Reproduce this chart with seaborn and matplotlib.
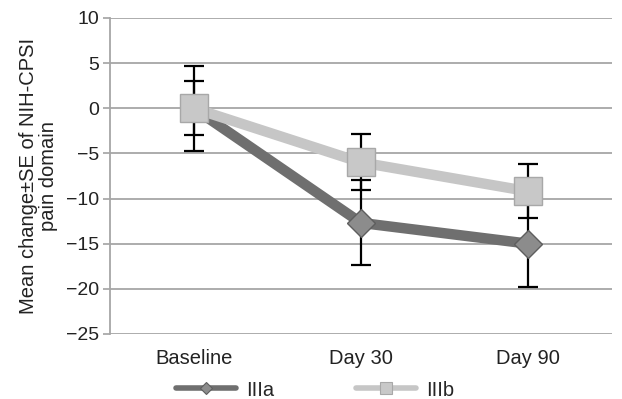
import matplotlib

matplotlib.use("Agg")
import matplotlib.pyplot as plt
from matplotlib.lines import Line2D
import pandas as pd
import seaborn as sns

timepoints = ["Baseline", "Day 30", "Day 90"]
iiia_mean = [0.0, -12.7, -15.0]
iiia_se = [4.7, 4.7, 4.8]
iiib_mean = [0.0, -6.0, -9.2]
iiib_se = [3.0, 3.1, 3.0]

sns.set_theme(style="white")
plt.rcParams["font.family"] = ["Liberation Sans", "DejaVu Sans"]

df = pd.DataFrame({
    "time": timepoints * 2,
    "mean": iiia_mean + iiib_mean,
    "se": iiia_se + iiib_se,
    "group": ["IIIa"] * 3 + ["IIIb"] * 3,
})

fig, ax = plt.subplots(figsize=(6.22, 3.99), dpi=100)
fig.subplots_adjust(left=0.177, right=0.984, top=0.955, bottom=0.163)

for y in range(-25, 15, 5):
    ax.axhline(y, color="#a6a6a6", lw=1.3, zorder=0)

# error bars sit behind the markers
pos = {t: i for i, t in enumerate(timepoints)}
for grp, z in [("IIIa", 2), ("IIIb", 4)]:
    sub = df[df["group"] == grp]
    ax.errorbar(sub["time"].map(pos), sub["mean"], yerr=sub["se"], fmt="none",
                ecolor="black", elinewidth=1.6, capsize=7, capthick=1.6, zorder=z)

styles = {"IIIa": ("#6f6f6f", "D", 14.5, "#8c8c8c", "#5e5e5e", 3),
          "IIIb": ("#c6c6c6", "s", 20.5, "#c8c8c8", "#a8a8a8", 5)}
for grp in ["IIIa", "IIIb"]:
    color, mk, ms, face, edge, z = styles[grp]
    sub = df[df["group"] == grp]
    sns.lineplot(data=sub, x="time", y="mean", ax=ax, color=color, lw=7.5,
                 marker=mk, markersize=ms, markerfacecolor=face,
                 markeredgecolor=edge, markeredgewidth=1, zorder=z, sort=False)

ax.set_xlim(-0.5, 2.5)
ax.set_ylim(-25, 10)
ax.set_yticks(range(-25, 15, 5))
ax.set_yticklabels([str(v).replace("-", "\u2212") for v in range(-25, 15, 5)])
ax.set_xlabel("")
ax.set_ylabel("Mean change\u00b1SE of NIH-CPSI\npain domain", fontsize=14.5,
              color="#222222", labelpad=6, linespacing=1.05)
ax.tick_params(axis="y", left=True, length=5, color="#a6a6a6", labelsize=14,
               labelcolor="#222222", pad=3)
ax.tick_params(axis="x", labelsize=14.5, labelcolor="#222222", pad=5)
for s in ["top", "right", "bottom"]:
    ax.spines[s].set_visible(False)
ax.spines["left"].set_color("#a6a6a6")
ax.spines["left"].set_linewidth(1.3)

handles = []
for grp in ["IIIa", "IIIb"]:
    color, mk, ms, face, edge, z = styles[grp]
    handles.append(Line2D([], [], color=color, lw=4, marker=mk,
                          markersize=6 if mk == "D" else 8, markerfacecolor=face,
                          markeredgecolor=edge, markeredgewidth=0.8))
ax.legend(handles, ["IIIa", "IIIb"], loc="upper left", bbox_to_anchor=(0.095, -0.09),
          ncol=2, frameon=False, fontsize=14.5, handlelength=3.0,
          columnspacing=4.05, handletextpad=0.5)

fig.savefig("out.png", dpi=100)
